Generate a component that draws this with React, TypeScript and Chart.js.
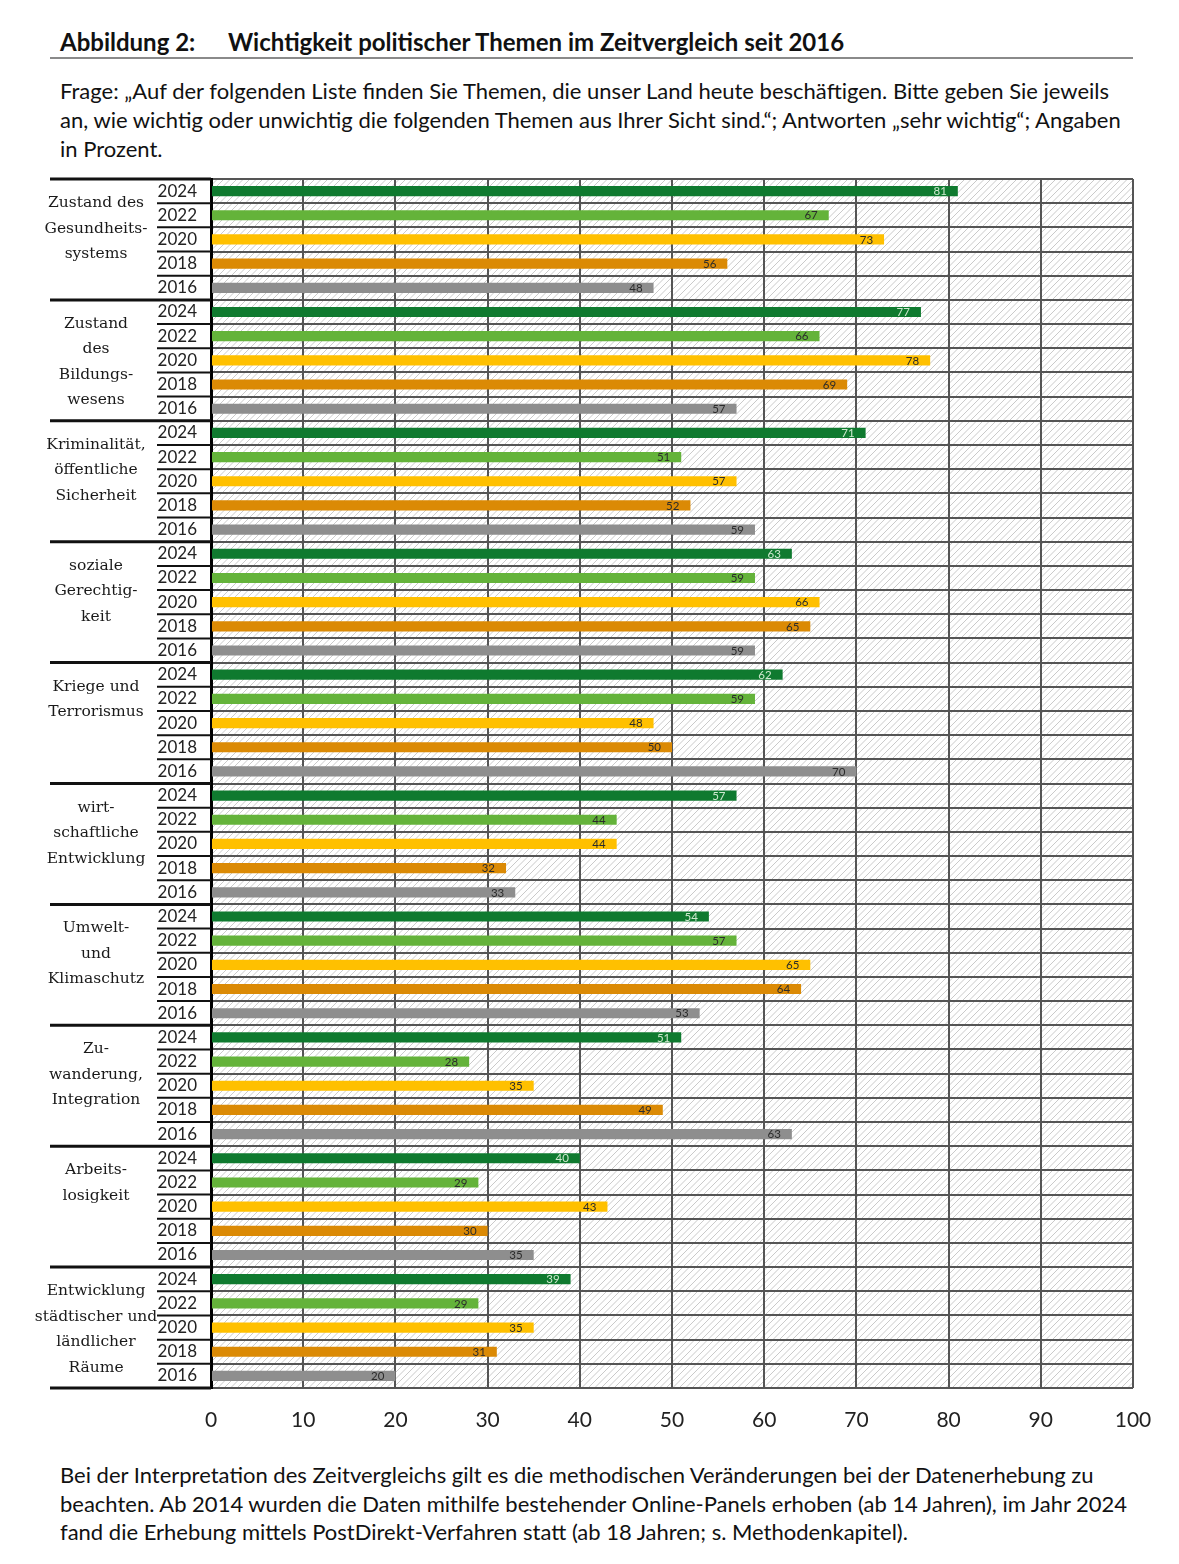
import React, { useEffect, useRef } from "react";
import { Chart, registerables } from "chart.js";

Chart.register(...registerables);

const categories: string[][] = [
  ["Zustand des", "Gesundheits-", "systems"],
  ["Zustand", "des", "Bildungs-", "wesens"],
  ["Kriminalität,", "öffentliche", "Sicherheit"],
  ["soziale", "Gerechtig-", "keit"],
  ["Kriege und", "Terrorismus"],
  ["wirt-", "schaftliche", "Entwicklung"],
  ["Umwelt-", "und", "Klimaschutz"],
  ["Zu-", "wanderung,", "Integration"],
  ["Arbeits-", "losigkeit"],
  ["Entwicklung", "städtischer und", "ländlicher", "Räume"],
];
const years = ["2024", "2022", "2020", "2018", "2016"];
const v2024 = [81, 77, 71, 63, 62, 57, 54, 51, 40, 39];
const v2022 = [67, 66, 51, 59, 59, 44, 57, 28, 29, 29];
const v2020 = [73, 78, 57, 66, 48, 44, 65, 35, 43, 35];
const v2018 = [56, 69, 52, 65, 50, 32, 64, 49, 30, 31];
const v2016 = [48, 57, 59, 59, 70, 33, 53, 63, 35, 20];
const yearColors = ["#0f7a2f", "#64b33a", "#ffc000", "#db8a05", "#8e8e8e"];
const labelColors = ["#cfe9cf", "#2b2b2b", "#2b2b2b", "#2b2b2b", "#2b2b2b"];

const series = [v2024, v2022, v2020, v2018, v2016];

export default function App() {
  const ref = useRef<HTMLCanvasElement | null>(null);

  useEffect(() => {
    if (!ref.current) return;
    const labels: string[] = [];
    const data: number[] = [];
    const colors: string[] = [];
    const txtColors: string[] = [];
    categories.forEach((_, g) => {
      years.forEach((y, k) => {
        labels.push(y);
        data.push(series[k][g]);
        colors.push(yearColors[k]);
        txtColors.push(labelColors[k]);
      });
    });

    const hatch = {
      id: "hatch",
      beforeDraw(chart: any) {
        const { ctx, chartArea: a } = chart;
        ctx.save();
        ctx.beginPath();
        ctx.rect(a.left, a.top, a.right - a.left, a.bottom - a.top);
        ctx.clip();
        ctx.strokeStyle = "#cacaca";
        ctx.lineWidth = 1;
        const h = a.bottom - a.top;
        ctx.beginPath();
        for (let x = a.left - h; x < a.right + 10; x += 6.5) {
          ctx.moveTo(x, a.bottom);
          ctx.lineTo(x + h, a.top);
        }
        ctx.stroke();
        ctx.restore();
      },
    };

    const side = {
      id: "side",
      afterDraw(chart: any) {
        const { ctx, chartArea: a } = chart;
        const ys = chart.scales.y;
        const n = labels.length;
        const rowH = (a.bottom - a.top) / n;
        ctx.save();
        ctx.strokeStyle = "#111";
        for (let i = 0; i <= n; i++) {
          const y = a.top + i * rowH;
          ctx.beginPath();
          if (i % 5 === 0) {
            ctx.lineWidth = 3;
            ctx.moveTo(50, y);
          } else {
            ctx.lineWidth = 2;
            ctx.moveTo(157, y);
          }
          ctx.lineTo(a.left, y);
          ctx.stroke();
        }
        ctx.fillStyle = "#1a1a1a";
        ctx.font = "15.5px 'DejaVu Serif'";
        ctx.textAlign = "center";
        ctx.textBaseline = "middle";
        categories.forEach((lines, g) => {
          const top = ys.getPixelForValue(g * 5) - rowH / 2;
          lines.forEach((t, j) => {
            ctx.fillText(t, 96, top + 24 + j * 25.5);
          });
        });
        // bar labels
        const meta = chart.getDatasetMeta(0);
        ctx.font = "11.5px Lato";
        ctx.textAlign = "right";
        meta.data.forEach((el: any, i: number) => {
          ctx.fillStyle = txtColors[i];
          ctx.fillText(String(data[i]), el.x - 11, el.y + 0.5);
        });
        ctx.restore();
      },
    };

    const chart = new Chart(ref.current, {
      type: "bar",
      data: {
        labels,
        datasets: [
          {
            data,
            backgroundColor: colors,
            borderWidth: 0,
            barPercentage: 0.42,
            categoryPercentage: 1,
          },
        ],
      },
      options: {
        indexAxis: "y",
        animation: false,
        responsive: false,
        devicePixelRatio: 1,
        layout: { padding: { top: 19, right: 46, left: 0, bottom: 0 } },
        plugins: { legend: { display: false }, tooltip: { enabled: false } },
        scales: {
          x: {
            min: 0,
            max: 100,
            ticks: {
              stepSize: 10,
              font: { family: "Lato", size: 21 },
              color: "#222",
              padding: 20,
            },
            grid: { color: "#555", lineWidth: 2, drawTicks: false },
            border: { display: false },
            afterFit(s: any) {
              s.height = 72;
              s.paddingLeft = 0;
              s.paddingRight = 0;
            },
          },
          y: {
            type: "category",
            offset: true,
            ticks: {
              autoSkip: false,
              font: { family: "Lato", size: 17 },
              color: "#222",
              padding: 14,
            },
            grid: { color: "#555", lineWidth: 2, drawTicks: false, offset: true },
            border: { display: true, color: "#000", width: 3 },
            afterFit(s: any) {
              s.width = 211;
              s.paddingTop = 0;
              s.paddingBottom = 0;
            },
          },
        },
      },
      plugins: [hatch, side],
    });
    return () => chart.destroy();
  }, []);

  const txt: React.CSSProperties = {
    position: "absolute",
    left: 60,
    fontFamily: "Lato",
    fontSize: 22,
    lineHeight: "29px",
    color: "#111",
    whiteSpace: "nowrap",
    margin: 0,
  };
  const head: React.CSSProperties = {
    position: "absolute",
    top: 28,
    fontFamily: "Lato",
    fontWeight: 700,
    fontSize: 24,
    lineHeight: "28px",
    color: "#111",
    whiteSpace: "nowrap",
  };

  return (
    <div style={{ position: "absolute", left: 0, top: 0, width: 1179, height: 1564, background: "#fff" }}>
      <div style={{ ...head, left: 60 }}>Abbildung 2:</div>
      <div style={{ ...head, left: 228 }}>Wichtigkeit politischer Themen im Zeitvergleich seit 2016</div>
      <div style={{ position: "absolute", left: 50, top: 57, width: 1083, height: 1.5, background: "#8a8a8a" }} />
      <div style={{ ...txt, top: 75.5 }}>
        Frage: „Auf der folgenden Liste finden Sie Themen, die unser Land heute beschäftigen. Bitte geben Sie jeweils
        <br />
        an, wie wichtig oder unwichtig die folgenden Themen aus Ihrer Sicht sind.“; Antworten „sehr wichtig“; Angaben
        <br />
        in Prozent.
      </div>
      <div style={{ position: "absolute", left: 0, top: 160, width: 1179, height: 1300 }}>
        <canvas ref={ref} width={1179} height={1300} style={{ width: 1179, height: 1300, display: "block" }} />
      </div>
      <div style={{ ...txt, top: 1461, lineHeight: "28.5px" }}>
        Bei der Interpretation des Zeitvergleichs gilt es die methodischen Veränderungen bei der Datenerhebung zu
        <br />
        beachten. Ab 2014 wurden die Daten mithilfe bestehender Online-Panels erhoben (ab 14 Jahren), im Jahr 2024
        <br />
        fand die Erhebung mittels PostDirekt-Verfahren statt (ab 18 Jahren; s. Methodenkapitel).
      </div>
    </div>
  );
}
